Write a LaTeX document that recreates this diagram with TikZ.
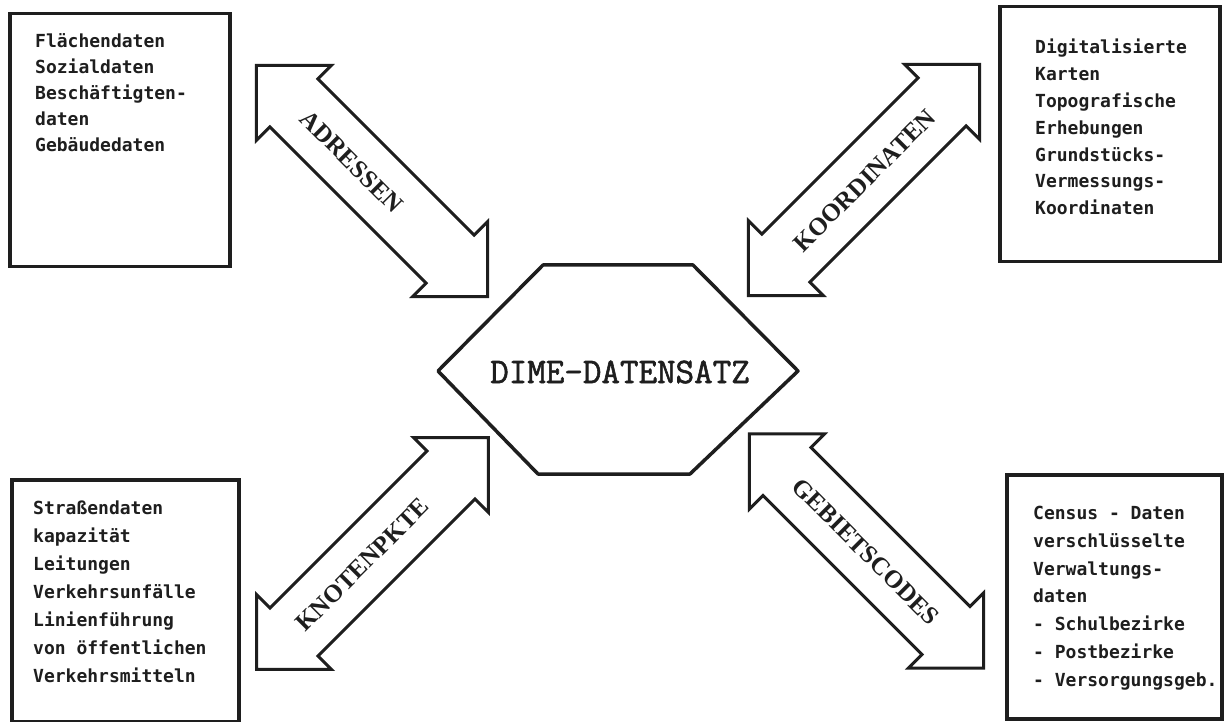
\documentclass[tikz,border=0pt]{standalone}
\usepackage{fontspec}
\setmainfont{Liberation Serif}
\newfontfamily\boxfont{DejaVu Sans Mono}
\newfontfamily\hexfont[FakeBold=1.6]{Latin Modern Mono}
\usetikzlibrary{shapes.arrows,positioning}
\definecolor{ink}{HTML}{1E1E1E}
\tikzset{
  databox/.style={draw=ink,line width=3.5pt,inner sep=0pt,anchor=north west},
  datatext/.style={anchor=north west,align=left,inner sep=0pt,text=ink,font=\boxfont\bfseries\fontsize{18}{#1}\selectfont},
  core/.style={draw=ink,line width=3.5pt,line join=round},
  corelabel/.style={inner sep=0pt,text=ink,font=\hexfont\fontsize{36}{36}\selectfont},
  link/.style={draw=ink,line width=3pt,shape=double arrow,double arrow tip angle=90,double arrow head extend=19pt,inner xsep=0pt,inner ysep=23.5pt,text height=18pt,text depth=0pt,text=ink,font=\bfseries\fontsize{25}{25}\selectfont},
}
\begin{document}
\begin{tikzpicture}[x=1pt,y=-1pt]
\useasboundingbox (0,0) rectangle (1224,722);
\fill[white] (0,0) rectangle (1224,722);
% data sources
\node[databox,minimum width=220pt,minimum height=253pt] (flaeche) at (8,12) {};
\node[databox,minimum width=220pt,minimum height=255pt] (karten) at (998,5) {};
\node[databox,minimum width=227pt,minimum height=242pt] (strasse) at (10,478) {};
\node[databox,minimum width=215pt,minimum height=244pt] (census) at (1005,473) {};
\node[datatext=26.2] (flaecheText) at (35,33) {Flächendaten\\Sozialdaten\\Beschäftigten-\\daten\\Gebäudedaten};
\node[datatext=26.8] (kartenText) at (1035,39) {Digitalisierte\\Karten\\Topografische\\Erhebungen\\Grundstücks-\\Vermessungs-\\Koordinaten};
\node[datatext=28] (strasseText) at (33,501) {Straßendaten\\kapazität\\Leitungen\\Verkehrsunfälle\\Linienführung\\von öffentlichen\\Verkehrsmitteln};
\node[datatext=27.8] (censusText) at (1033,506) {Census - Daten\\verschlüsselte\\Verwaltungs-\\daten\\- Schulbezirke\\- Postbezirke\\- Versorgungsgeb.};
% centre
\node[corelabel] (dime) at (620,372) {DIME-DATENSATZ};
\draw[core] ([xshift=-77pt,yshift=107pt]dime.center) -- ([xshift=73pt,yshift=107pt]dime.center)
  -- ([xshift=178pt,yshift=1pt]dime.center) -- ([xshift=70pt,yshift=-102pt]dime.center)
  -- ([xshift=-82pt,yshift=-102pt]dime.center) -- ([xshift=-182pt,yshift=1pt]dime.center) -- cycle;
% links
\foreach \name/\pos/\ang/\len/\lbl in {
  adr/{372,181}/-45/327/{ADRESSEN\kern56pt},
  koord/{864,180}/45/327/{KOORDINATEN},
  knoten/{372.5,553.5}/45/328/{KNOTENPKTE\kern30pt},
  gebiet/{866.5,551}/-45/331/{GEBIETSCODES}} {
  \node[link,rotate=\ang,minimum height=\len pt] (\name) at (\pos) {\lbl};
}
\end{tikzpicture}
\end{document}
